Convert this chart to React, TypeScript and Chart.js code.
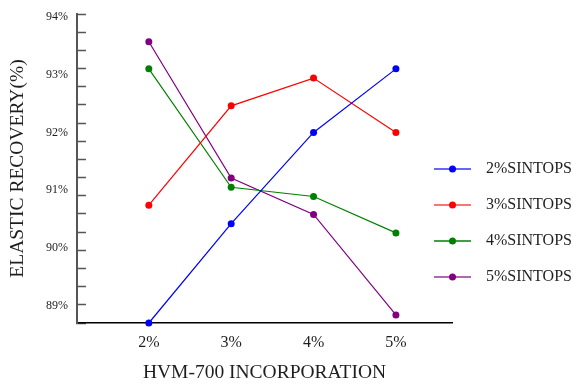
import React, { useEffect, useRef } from 'react';
import { Chart, registerables } from 'chart.js';

Chart.register(...registerables);

// ---- data ----
const categories = ['2%', '3%', '4%', '5%'];
const categoryValues = [2, 3, 4, 5];
const seriesNames = ['2%SINTOPS', '3%SINTOPS', '4%SINTOPS', '5%SINTOPS'];
const sintops2 = [88.7, 90.42, 92.0, 93.1];
const sintops3 = [90.74, 92.46, 92.94, 92.0];
const sintops4 = [93.1, 91.05, 90.89, 90.26];
const sintops5 = [93.57, 91.21, 90.58, 88.84];
const yTickLabels = [89, 90, 91, 92, 93, 94];

// ---- styles ----
const seriesColors = ['#0000ff', '#ff0000', '#008000', '#800080'];
const legendLineColors = ['rgba(0,0,255,0.6)', 'rgba(255,0,0,0.55)', '#008000', 'rgba(128,0,128,0.6)'];
const legendLineWidths = [2, 2, 1.5, 2];
const Y_MIN = 88.7;
const Y_MAX = 94.05;
const Y_MINOR_INTERVALS = 17;
const X_MIN = 1.128;
const X_MAX = 5.681;
const FONT = '"Liberation Serif", "Times New Roman", serif';
const TEXT = '#1e1e1e';

const seriesValues = [sintops2, sintops3, sintops4, sintops5];

const sideLegend = {
  id: 'sideLegend',
  afterDraw(chart: any) {
    const ctx = chart.ctx;
    const { right, top } = chart.chartArea;
    const lineStart = right - 18;
    const lineLen = 37;
    const textX = right + 34;
    const y0 = top + 155;
    const step = 36;
    ctx.save();
    seriesNames.forEach((name, i) => {
      const y = y0 + i * step;
      ctx.beginPath();
      ctx.strokeStyle = legendLineColors[i];
      ctx.lineWidth = legendLineWidths[i];
      ctx.moveTo(lineStart, y);
      ctx.lineTo(lineStart + lineLen, y);
      ctx.stroke();
      ctx.beginPath();
      ctx.fillStyle = seriesColors[i];
      ctx.arc(lineStart + lineLen / 2, y, 3.5, 0, Math.PI * 2);
      ctx.fill();
      ctx.fillStyle = TEXT;
      ctx.font = `16px ${FONT}`;
      ctx.textAlign = 'left';
      ctx.textBaseline = 'middle';
      ctx.fillText(name, textX, y);
    });
    ctx.restore();
  },
};

export default function App() {
  const ref = useRef<HTMLCanvasElement>(null);

  useEffect(() => {
    if (!ref.current) return;
    Chart.defaults.font.family = FONT;
    const minorTicks: number[] = [];
    for (let i = 0; i <= Y_MINOR_INTERVALS; i++) {
      minorTicks.push(Y_MIN + (i * (Y_MAX - Y_MIN)) / Y_MINOR_INTERVALS);
    }
    const chart = new Chart(ref.current, {
      type: 'line',
      data: {
        datasets: seriesNames.map((name, i) => ({
          label: name,
          data: categoryValues.map((x, j) => ({ x, y: seriesValues[i][j] })),
          borderColor: seriesColors[i],
          backgroundColor: seriesColors[i],
          pointBackgroundColor: seriesColors[i],
          pointBorderWidth: 0,
          pointRadius: 3.5,
          borderWidth: 1.2,
          tension: 0,
          clip: false as any,
        })),
      },
      options: {
        animation: false,
        responsive: false,
        devicePixelRatio: 1,
        layout: { padding: { left: 0, right: 122, top: 14, bottom: 0 } },
        plugins: { legend: { display: false }, tooltip: { enabled: false } },
        scales: {
          x: {
            type: 'linear',
            min: X_MIN,
            max: X_MAX,
            afterBuildTicks: (scale: any) => {
              scale.ticks = categoryValues.map((v) => ({ value: v }));
            },
            afterFit: (scale: any) => {
              scale.height = 62;
              scale.paddingLeft = 0;
              scale.paddingRight = 0;
            },
            border: { display: true, color: '#000', width: 1.5 },
            grid: { display: false, drawTicks: false },
            ticks: {
              padding: 10,
              color: TEXT,
              font: { size: 16 },
              autoSkip: false,
              maxRotation: 0,
              callback: (value: any) => categories[categoryValues.indexOf(Number(value))] ?? '',
            },
            title: {
              display: true,
              text: 'HVM-700 INCORPORATION',
              color: TEXT,
              font: { size: 19.5 },
              padding: { top: 0, bottom: 0 },
            },
          },
          y: {
            type: 'linear',
            min: Y_MIN,
            max: Y_MAX,
            afterBuildTicks: (scale: any) => {
              scale.ticks = [
                ...minorTicks.map((v) => ({ value: v, labelTick: false })),
                ...yTickLabels.map((v) => ({ value: v, labelTick: true })),
              ];
            },
            afterFit: (scale: any) => {
              scale.width = 77;
              scale.paddingTop = 0;
              scale.paddingBottom = 0;
            },
            border: { display: true, color: '#555', width: 2 },
            grid: {
              drawOnChartArea: false,
              tickLength: -9,
              tickWidth: 1.5,
              tickColor: (ctx: any) => (ctx.tick && ctx.tick.labelTick ? 'rgba(0,0,0,0)' : '#555'),
            },
            ticks: {
              autoSkip: false,
              padding: 18,
              color: TEXT,
              font: { size: 12 },
              callback: function (value: any, index: number, ticks: any[]) {
                return ticks[index] && ticks[index].labelTick ? `${value}%` : '';
              },
            },
            title: {
              display: true,
              text: 'ELASTIC RECOVERY(%)',
              color: TEXT,
              font: { size: 19.5 },
              padding: { top: 6, bottom: 0 },
            },
          },
        },
      } as any,
      plugins: [sideLegend],
    });
    return () => chart.destroy();
  }, []);

  return (
    <div style={{ position: 'fixed', left: 0, top: 0, width: 574, height: 385, background: '#fff' }}>
      <canvas ref={ref} width={574} height={385} style={{ display: 'block' }} />
    </div>
  );
}
